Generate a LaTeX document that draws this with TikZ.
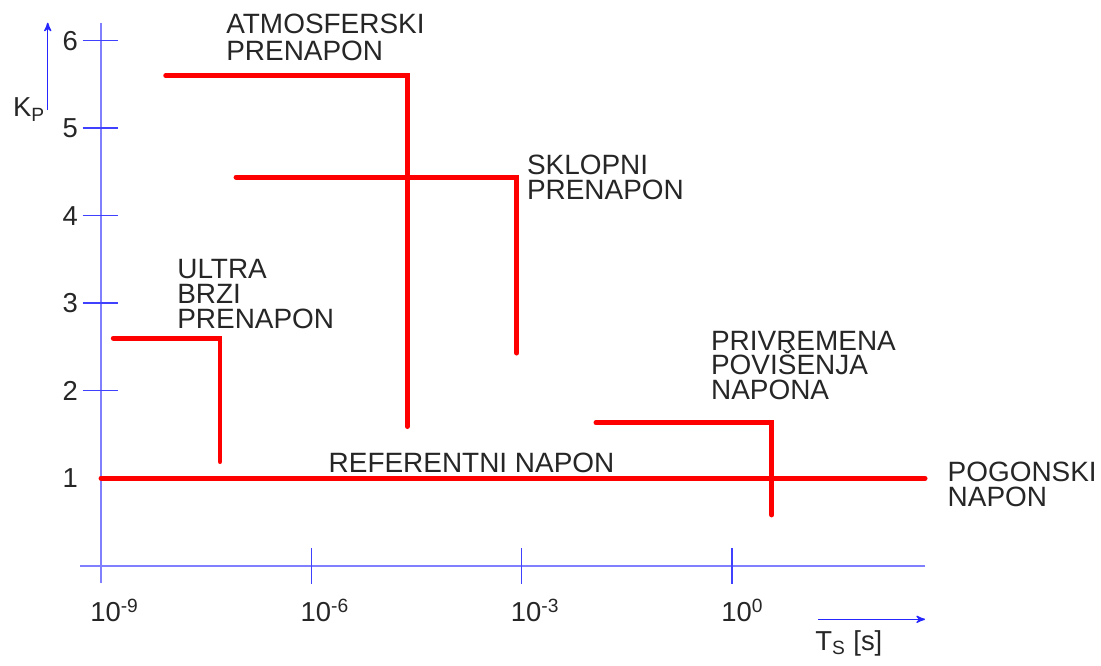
\documentclass[tikz,border=0pt]{standalone}
\usepackage{fontspec}
\setmainfont{Liberation Sans}
\usetikzlibrary{arrows}
\tikzset{
  axisline/.style={draw=blue!50,line width=1.2pt},
  axistick/.style={draw=blue!75,line width=0.8pt},
  axisarrow/.style={draw=blue!85,line width=0.8pt,->,>=stealth'},
  rangeline/.style={draw=red,line width=2.8pt,line cap=round},
  lbl/.style={inner sep=0pt,text=black!85,font=\fontsize{15.9}{14.0}\selectfont,align=left,anchor=north west},
  numlbl/.style={inner sep=0pt,text=black!85,font=\fontsize{15.6}{15.6}\selectfont}
}
\begin{document}
\begin{tikzpicture}[x=1.402cm,y=1.75cm]
\useasboundingbox (-10.441,-1.146) rectangle (5.265,6.465);
\begin{scope}[]
\draw[axisline] (-9,-0.198) -- (-9,6.206);
\draw[axisline] (-9.30,0) -- (2.755,0);
\draw[axistick] (-9.261,2) -- (-8.753,2);
\draw[axistick] (-9.261,3) -- (-8.753,3);
\draw[axistick] (-9.261,4) -- (-8.753,4);
\draw[axistick] (-9.261,5) -- (-8.753,5);
\draw[axistick] (-9.261,6) -- (-8.753,6);
\draw[axistick] (-6,0.202) -- (-6,-0.209);
\draw[axistick] (-3,0.202) -- (-3,-0.209);
\draw[axistick] (0,0.202) -- (0,-0.209);
\end{scope}
\begin{scope}[]
\node[numlbl,anchor=east] (k1) at (-9.324,1) {1};
\node[numlbl,anchor=east] (k2) at (-9.324,2) {2};
\node[numlbl,anchor=east] (k3) at (-9.324,3) {3};
\node[numlbl,anchor=east] (k4) at (-9.324,4) {4};
\node[numlbl,anchor=east] (k5) at (-9.324,5) {5};
\node[numlbl,anchor=east] (k6) at (-9.324,6) {6};
\node[numlbl,anchor=base west] (t9) at (-9.157,-0.64) {10\textsuperscript{-9}};
\node[numlbl,anchor=base west] (t6) at (-6.157,-0.64) {10\textsuperscript{-6}};
\node[numlbl,anchor=base west] (t3) at (-3.157,-0.64) {10\textsuperscript{-3}};
\node[numlbl,anchor=base west] (t0) at (-0.157,-0.64) {10\textsuperscript{0}};
\end{scope}
\coordinate (kpfoot) at (-9.760,5.208);
\coordinate (kptip) at (-9.760,6.206);
\draw[axisarrow] (kpfoot) -- (kptip);
\node[numlbl,anchor=base west] (kplabel) at (-10.260,5.128) {K\textsubscript{P}};
\coordinate (tsfoot) at (1.228,-0.613);
\coordinate (tstip) at (2.755,-0.613);
\draw[axisarrow] (tsfoot) -- (tstip);
\node[numlbl,anchor=base west] (tslabel) at (1.185,-0.964) {T\textsubscript{S} [s]};
\begin{scope}[]
\draw[rangeline] (-9,1) -- (2.755,1);
\draw[rangeline] (-8.825,2.6) -- (-7.302,2.6) -- (-7.302,1.19);
\draw[rangeline] (-8.077,5.6) -- (-4.630,5.6) -- (-4.630,1.59);
\draw[rangeline] (-7.074,4.44) -- (-3.071,4.44) -- (-3.071,2.43);
\draw[rangeline] (-1.939,1.634) -- (0.568,1.634) -- (0.568,0.58);
\end{scope}
\node[lbl,font=\fontsize{15.9}{15.7}\selectfont] (atmos) at (-7.217,6.313) {ATMOSFERSKI\\PRENAPON};
\node[lbl] (sklop) at (-2.928,4.694) {SKLOPNI\\PRENAPON};
\node[lbl] (ultra) at (-7.916,3.502) {ULTRA\\BRZI\\PRENAPON};
\node[lbl] (privr) at (-0.302,2.686) {PRIVREMENA\\POVIŠENJA\\NAPONA};
\node[lbl] (pogon) at (3.073,1.189) {POGONSKI\\NAPON};
\node[lbl] (refer) at (-5.757,1.291) {REFERENTNI NAPON};
\end{tikzpicture}
\end{document}
